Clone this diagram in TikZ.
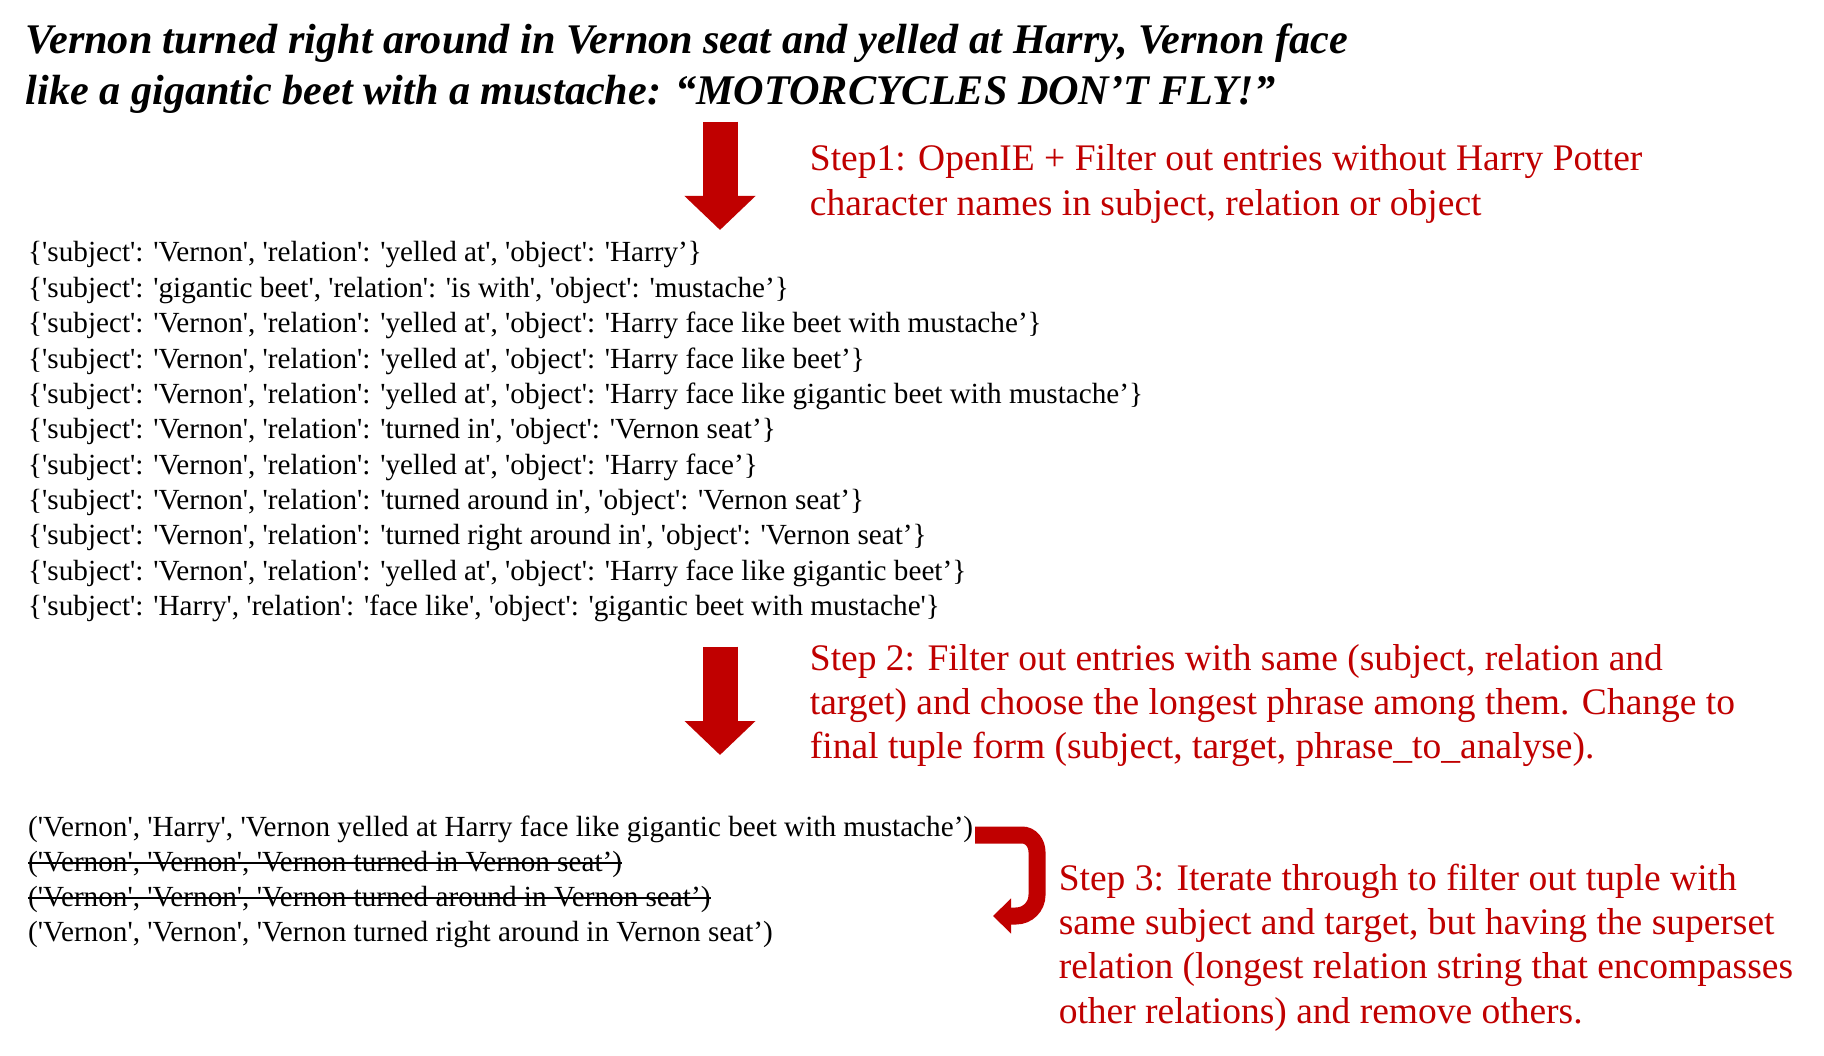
\documentclass[tikz,border=0pt]{standalone}
\usepackage{fontspec}
\setmainfont{Liberation Serif}[Ligatures=TeXOff]
\usepackage{tikz}
\usetikzlibrary{arrows.meta,positioning}
\definecolor{hpred}{HTML}{C00000}
\tikzset{
  headline/.style={anchor=base west,inner sep=0pt,font=\fontsize{42.2}{48.8}\selectfont\bfseries\itshape},
  tuple/.style={anchor=base west,inner sep=0pt,font=\fontsize{29.2}{35.4}\selectfont},
  steptext/.style={anchor=base west,inner sep=0pt,text=hpred,font=\fontsize{37.5}{44.2}\selectfont},
  downarrow/.style={draw=hpred,line width=35pt,-{Triangle[length=34pt,width=69pt]}},
  bendarrow/.style={draw=hpred,line width=17pt,-{Triangle[length=18pt,width=34pt]}},
  strike/.style={draw=black,line width=1.6pt},
}

\begin{document}
\begin{tikzpicture}[x=1pt,y=-1pt]
  \useasboundingbox[fill=white] (0,0) rectangle (1824,1056);
  % sentence
  \node[headline] (head1) at (25.6,54) {Vernon turned right around in Vernon seat and yelled at Harry, Vernon face};
  \node[headline] (head2) at (25.6,104.5) {like a gigantic beet with a mustache: “MOTORCYCLES DON’T FLY!”};
  % step 1
  \coordinate (arrowA) at (720,121.7);
  \coordinate (arrowAtip) at (720,230);
  \draw[downarrow] (arrowA) -- (arrowAtip);
  \node[steptext] (step1a) at (809.7,171) {Step1: OpenIE + Filter out entries without Harry Potter};
  \node[steptext] (step1b) at (809.7,215.2) {character names in subject, relation or object};
  % openie triples
  \foreach \txt [count=\i] in {
    {\{'subject': 'Vernon', 'relation': 'yelled at', 'object': 'Harry’\}},
    {\{'subject': 'gigantic beet', 'relation': 'is with', 'object': 'mustache’\}},
    {\{'subject': 'Vernon', 'relation': 'yelled at', 'object': 'Harry face like beet with mustache’\}},
    {\{'subject': 'Vernon', 'relation': 'yelled at', 'object': 'Harry face like beet’\}},
    {\{'subject': 'Vernon', 'relation': 'yelled at', 'object': 'Harry face like gigantic beet with mustache’\}},
    {\{'subject': 'Vernon', 'relation': 'turned in', 'object': 'Vernon seat’\}},
    {\{'subject': 'Vernon', 'relation': 'yelled at', 'object': 'Harry face’\}},
    {\{'subject': 'Vernon', 'relation': 'turned around in', 'object': 'Vernon seat’\}},
    {\{'subject': 'Vernon', 'relation': 'turned right around in', 'object': 'Vernon seat’\}},
    {\{'subject': 'Vernon', 'relation': 'yelled at', 'object': 'Harry face like gigantic beet’\}},
    {\{'subject': 'Harry', 'relation': 'face like', 'object': 'gigantic beet with mustache'\}}}
    \node[tuple] (triple\i) at (28,{262+35.37*(\i-1)}) {\txt};
  % step 2
  \coordinate (arrowB) at (720,646.7);
  \coordinate (arrowBtip) at (720,755);
  \draw[downarrow] (arrowB) -- (arrowBtip);
  \node[steptext] (step2a) at (809.7,670) {Step 2: Filter out entries with same (subject, relation and};
  \node[steptext] (step2b) at (809.7,714.2) {target) and choose the longest phrase among them. Change to};
  \node[steptext] (step2c) at (809.7,758.4) {final tuple form (subject, target, phrase\_to\_analyse).};
  % final tuples
  \node[tuple] (final1) at (28,836) {('Vernon', 'Harry', 'Vernon yelled at Harry face like gigantic beet with mustache’)};
  \node[tuple] (final2) at (28,871) {('Vernon', 'Vernon', 'Vernon turned in Vernon seat’)};
  \node[tuple] (final3) at (28,906) {('Vernon', 'Vernon', 'Vernon turned around in Vernon seat’)};
  \node[tuple] (final4) at (28,941) {('Vernon', 'Vernon', 'Vernon turned right around in Vernon seat’)};
  \draw[strike] ([yshift=8pt]final2.base west) -- ([yshift=8pt]final2.base east);
  \draw[strike] ([yshift=8pt]final3.base west) -- ([yshift=8pt]final3.base east);
  % step 3
  \coordinate (bendC) at (975,835);
  \coordinate (bendCtip) at (993,916);
  \draw[bendarrow] (bendC) -- (1022,835) to[out=0,in=90] (1037,852) -- (1037,895)
    to[out=-90,in=0] (1016,916) -- (bendCtip);
  \node[steptext] (step3a) at (1058.6,890) {Step 3: Iterate through to filter out tuple with};
  \node[steptext] (step3b) at (1058.6,934.4) {same subject and target, but having the superset};
  \node[steptext] (step3c) at (1058.6,978.8) {relation (longest relation string that encompasses};
  \node[steptext] (step3d) at (1058.6,1023.2) {other relations) and remove others.};
\end{tikzpicture}
\end{document}
